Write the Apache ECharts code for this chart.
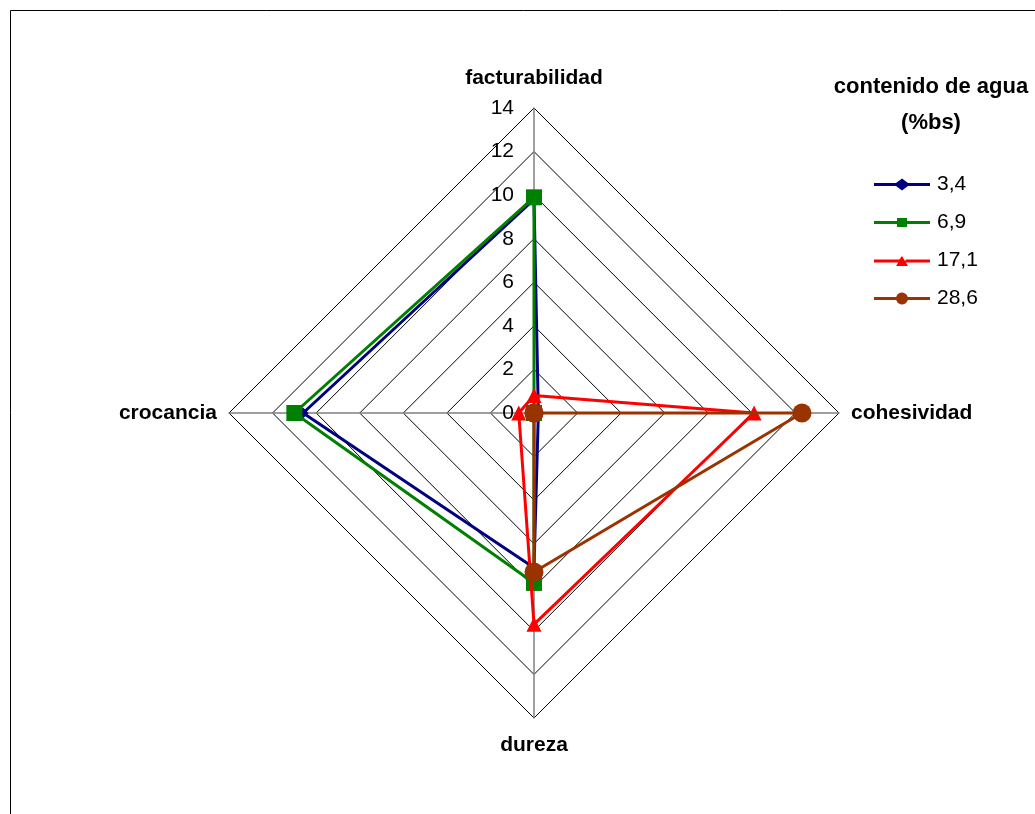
<!DOCTYPE html>
<html>
<head>
<meta charset="utf-8">
<script src="https://cdn.jsdelivr.net/npm/echarts@6/dist/echarts.min.js"></script>
<style>
  html, body { margin: 0; padding: 0; background: #fff; }
  #chart { width: 1035px; height: 814px; }
</style>
</head>
<body>
<div id="chart"></div>
<script>
// ejes en el orden de ECharts (arriba, izquierda, abajo, derecha)
var ejes = ['facturabilidad', 'crocancia', 'dureza', 'cohesividad'];
var escalaMax = 14;

var serie34 = [9.8, 10.6, 7.1, 0.2];
var serie69 = [9.9, 11.0, 7.8, 0.0];
var serie171 = [0.8, 0.7, 9.7, 10.1];
var serie286 = [0.0, 0.0, 7.3, 12.3];

var nombres = ['3,4', '6,9', '17,1', '28,6'];
var colores = ['#000080', '#008000', '#ff0000', '#993300'];
var simbolos = ['diamond', 'rect', 'triangle', 'circle'];
var tamanos = [11, 16, 15, 19];

// iconos de leyenda: linea + marcador (caja 56x12)
var iconos = [
  'path://M0,4.5H22L28,0L34,4.5H56V7.5H34L28,12L22,7.5H0Z',
  'path://M0,0H56V0.01H0ZM0,4.5H23V1.5H33V4.5H56V7.5H33V10.5H23V7.5H0ZM0,11.99H56V12H0Z',
  'path://M0,0H56V0.01H0ZM0,4.5H25.3L28,1L34,11H22L24.2,7.5H0ZM31.8,4.5H56V7.5H30.6Z',
  'path://M0,4.5H22.2A6,6 0 0 1 33.8,4.5H56V7.5H33.8A6,6 0 0 1 22.2,7.5H0Z'
];

var valores = [serie34, serie69, serie171, serie286];

var chart = echarts.init(document.getElementById('chart'));

var indicador = ejes.map(function (n, i) {
  var ind = { name: n, max: escalaMax, min: 0 };
  if (i === 0) ind.axisLabel = { show: true };
  return ind;
});

var series = valores.map(function (v, i) {
  return {
    type: 'radar',
    name: nombres[i],
    symbol: simbolos[i],
    symbolSize: tamanos[i],
    lineStyle: { color: colores[i], width: 3 },
    itemStyle: { color: colores[i] },
    z: 2 + i,
    data: [{ name: nombres[i], value: v }]
  };
});

var option = {
  animation: false,
  backgroundColor: '#fff',
  textStyle: { fontFamily: 'Liberation Sans, Arial, sans-serif' },
  graphic: [{
    type: 'rect',
    shape: { x: 10.5, y: 10.5, width: 1040, height: 820 },
    style: { fill: 'none', stroke: '#000', lineWidth: 1 },
    silent: true
  }],
  title: {
    text: 'contenido de agua\n(%bs)',
    left: 926,
    top: 64,
    textAlign: 'center',
    textStyle: { fontSize: 22, fontWeight: 'bold', color: '#000', lineHeight: 36 }
  },
  legend: {
    orient: 'vertical',
    left: 869,
    top: 169,
    itemWidth: 56,
    itemHeight: 12,
    itemGap: 17,
    itemStyle: { borderWidth: 0 },
    textStyle: { fontSize: 21, color: '#000', padding: [0, 0, 0, 2] },
    data: nombres.map(function (n, i) {
      return { name: n, icon: iconos[i], itemStyle: { color: colores[i] } };
    })
  },
  radar: {
    center: [534, 413],
    radius: 305,
    shape: 'polygon',
    splitNumber: 7,
    startAngle: 90,
    nameGap: 12,
    axisName: { color: '#000', fontSize: 21, fontWeight: 'bold', padding: [5, 0, 7, 0] },
    axisLine: { lineStyle: { color: '#808080', width: 1.5 } },
    axisTick: { show: false },
    axisLabel: { show: false, color: '#000', fontSize: 21, margin: 20 },
    splitLine: { lineStyle: { color: '#000', width: 1 } },
    splitArea: { show: false },
    indicator: indicador
  },
  series: series
};

chart.setOption(option);
</script>
</body>
</html>
